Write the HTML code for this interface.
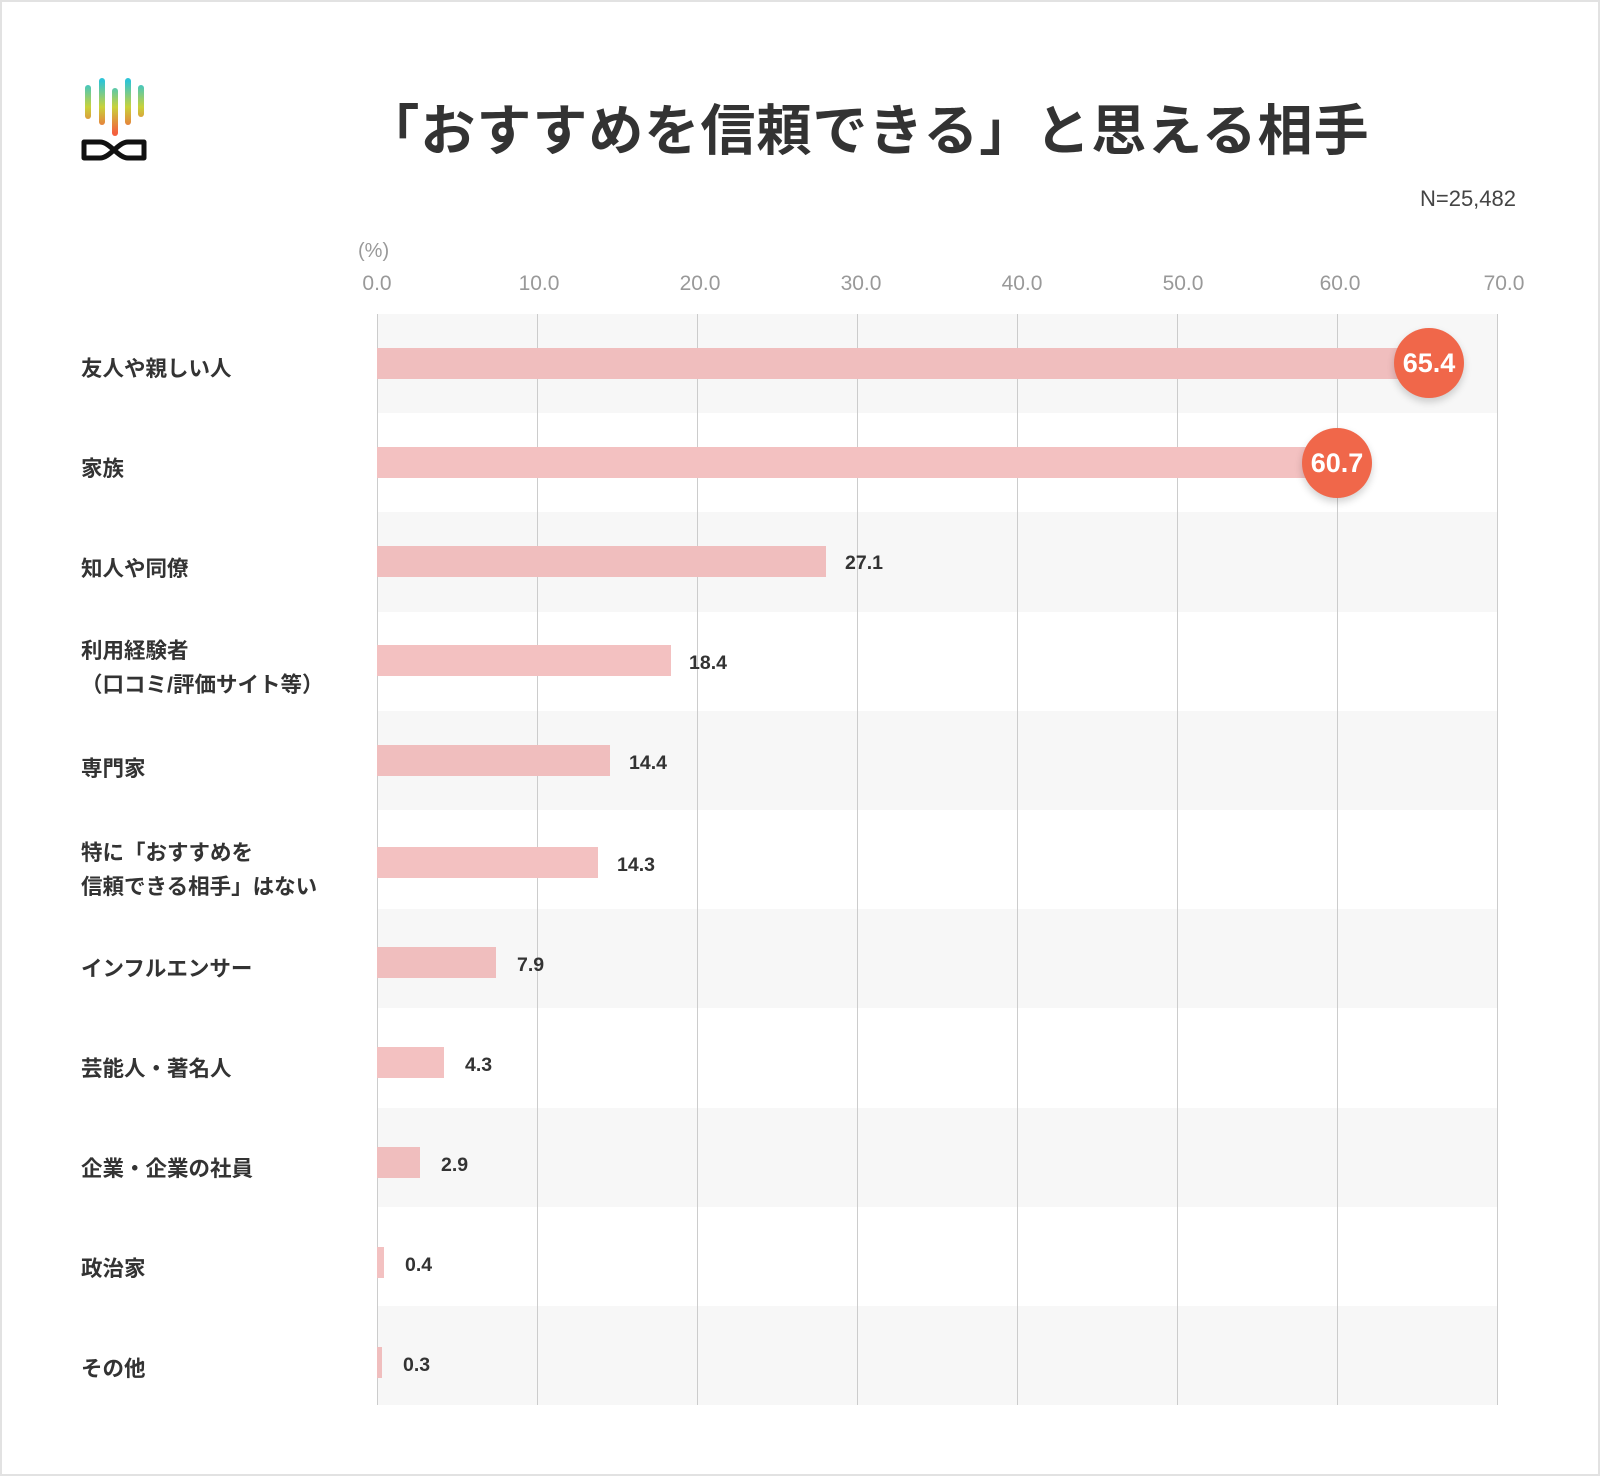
<!DOCTYPE html>
<html><head><meta charset="utf-8"><style>
*{margin:0;padding:0;box-sizing:border-box}
body{width:1600px;height:1476px;background:#fff;position:relative;overflow:hidden;font-family:"Liberation Sans","Noto Sans CJK JP",sans-serif;color:#333}
.frame{position:absolute;left:0;top:0;width:1600px;height:1476px;border:2px solid #e2e2e2}
.abs{position:absolute}
.title{left:0;width:1734px;text-align:center;top:86px;font-size:55px;font-weight:bold;color:#333;letter-spacing:1px}
.tick{top:272px;font-size:21px;color:#999;width:80px;text-align:center}
.band{left:377px;width:1120px;height:99.2px;background:#f7f7f7}
.grid{top:314px;height:1091px;width:1.5px;background:#ccc}
.lab{left:81px;font-size:21.5px;font-weight:bold;color:#333;line-height:34px}
.bar{left:377px;height:31px;background:#f3c1c1}
.val{font-size:19.5px;font-weight:bold;color:#333}
.circ{width:70px;height:70px;border-radius:50%;background:#f0674a;color:#fff;font-size:27px;font-weight:bold;text-align:center;line-height:70px;box-shadow:0 4px 8px rgba(0,0,0,.18)}
</style></head><body>
<div class="frame"></div>
<svg class="abs" style="left:80px;top:76px" width="72" height="90">
<defs><linearGradient id="g" gradientUnits="userSpaceOnUse" x1="0" y1="5" x2="0" y2="57"><stop offset="0" stop-color="#2ec4d6"/><stop offset=".5" stop-color="#c8d23a"/><stop offset="1" stop-color="#f4603e"/></linearGradient></defs>
<g stroke="url(#g)" stroke-width="6" stroke-linecap="round">
<line x1="8" y1="12" x2="8" y2="40"/><line x1="22" y1="5" x2="22" y2="46"/><line x1="35" y1="15" x2="35" y2="57"/><line x1="48" y1="5" x2="48" y2="46"/><line x1="61" y1="12" x2="61" y2="38"/></g>
<path d="M4 66 H20 C30 66 38 82 48 82 H64 V66 H48 C38 66 30 82 20 82 H4 Z" fill="none" stroke="#111" stroke-width="5" stroke-linejoin="round"/>
</svg>
<div class="abs title">「おすすめを信頼できる」と思える相手</div>
<div class="abs" style="right:84px;top:186px;font-size:22px;color:#444">N=25,482</div>
<div class="abs" style="left:358px;top:240px;font-size:20px;color:#999">(%)</div>
<div class="abs tick" style="left:337px">0.0</div>
<div class="abs tick" style="left:499px">10.0</div>
<div class="abs tick" style="left:660px">20.0</div>
<div class="abs tick" style="left:821px">30.0</div>
<div class="abs tick" style="left:982px">40.0</div>
<div class="abs tick" style="left:1143px">50.0</div>
<div class="abs tick" style="left:1300px">60.0</div>
<div class="abs tick" style="left:1464px">70.0</div>
<div class="abs band" style="top:314px"></div>
<div class="abs band" style="top:512.4px"></div>
<div class="abs band" style="top:710.8px"></div>
<div class="abs band" style="top:909.2px"></div>
<div class="abs band" style="top:1107.6px"></div>
<div class="abs band" style="top:1306px"></div>
<div class="abs grid" style="left:376.5px"></div>
<div class="abs grid" style="left:536.5px"></div>
<div class="abs grid" style="left:696.5px"></div>
<div class="abs grid" style="left:856.5px"></div>
<div class="abs grid" style="left:1016.5px"></div>
<div class="abs grid" style="left:1176.5px"></div>
<div class="abs grid" style="left:1336.5px"></div>
<div class="abs grid" style="left:1496.5px"></div>

<div class="abs bar" style="top:348px;width:1046px;background:#f0bebe"></div>
<div class="abs bar" style="top:447px;width:971px"></div>
<div class="abs bar" style="top:546px;width:449px;background:#f0bebe"></div>
<div class="abs bar" style="top:645px;width:294px"></div>
<div class="abs bar" style="top:745px;width:233px;background:#f0bebe"></div>
<div class="abs bar" style="top:847px;width:221px"></div>
<div class="abs bar" style="top:947px;width:119px;background:#f0bebe"></div>
<div class="abs bar" style="top:1047px;width:67px"></div>
<div class="abs bar" style="top:1147px;width:43px;background:#f0bebe"></div>
<div class="abs bar" style="top:1247px;width:7px"></div>
<div class="abs bar" style="top:1347px;width:5px;background:#f0bebe"></div>

<div class="abs circ" style="left:1394px;top:328px">65.4</div>
<div class="abs circ" style="left:1302px;top:428px">60.7</div>
<div class="abs val" style="left:845px;top:552px">27.1</div>
<div class="abs val" style="left:689px;top:652px">18.4</div>
<div class="abs val" style="left:629px;top:752px">14.4</div>
<div class="abs val" style="left:617px;top:854px">14.3</div>
<div class="abs val" style="left:517px;top:954px">7.9</div>
<div class="abs val" style="left:465px;top:1054px">4.3</div>
<div class="abs val" style="left:441px;top:1154px">2.9</div>
<div class="abs val" style="left:405px;top:1254px">0.4</div>
<div class="abs val" style="left:403px;top:1354px">0.3</div>

<div class="abs lab" style="top:352px">友人や親しい人</div>
<div class="abs lab" style="top:452px">家族</div>
<div class="abs lab" style="top:552px">知人や同僚</div>
<div class="abs lab" style="top:634px">利用経験者<br>（口コミ/評価サイト等）</div>
<div class="abs lab" style="top:752px">専門家</div>
<div class="abs lab" style="top:836px">特に「おすすめを<br>信頼できる相手」はない</div>
<div class="abs lab" style="top:952px">インフルエンサー</div>
<div class="abs lab" style="top:1052px">芸能人・著名人</div>
<div class="abs lab" style="top:1152px">企業・企業の社員</div>
<div class="abs lab" style="top:1252px">政治家</div>
<div class="abs lab" style="top:1352px">その他</div>
</body></html>
